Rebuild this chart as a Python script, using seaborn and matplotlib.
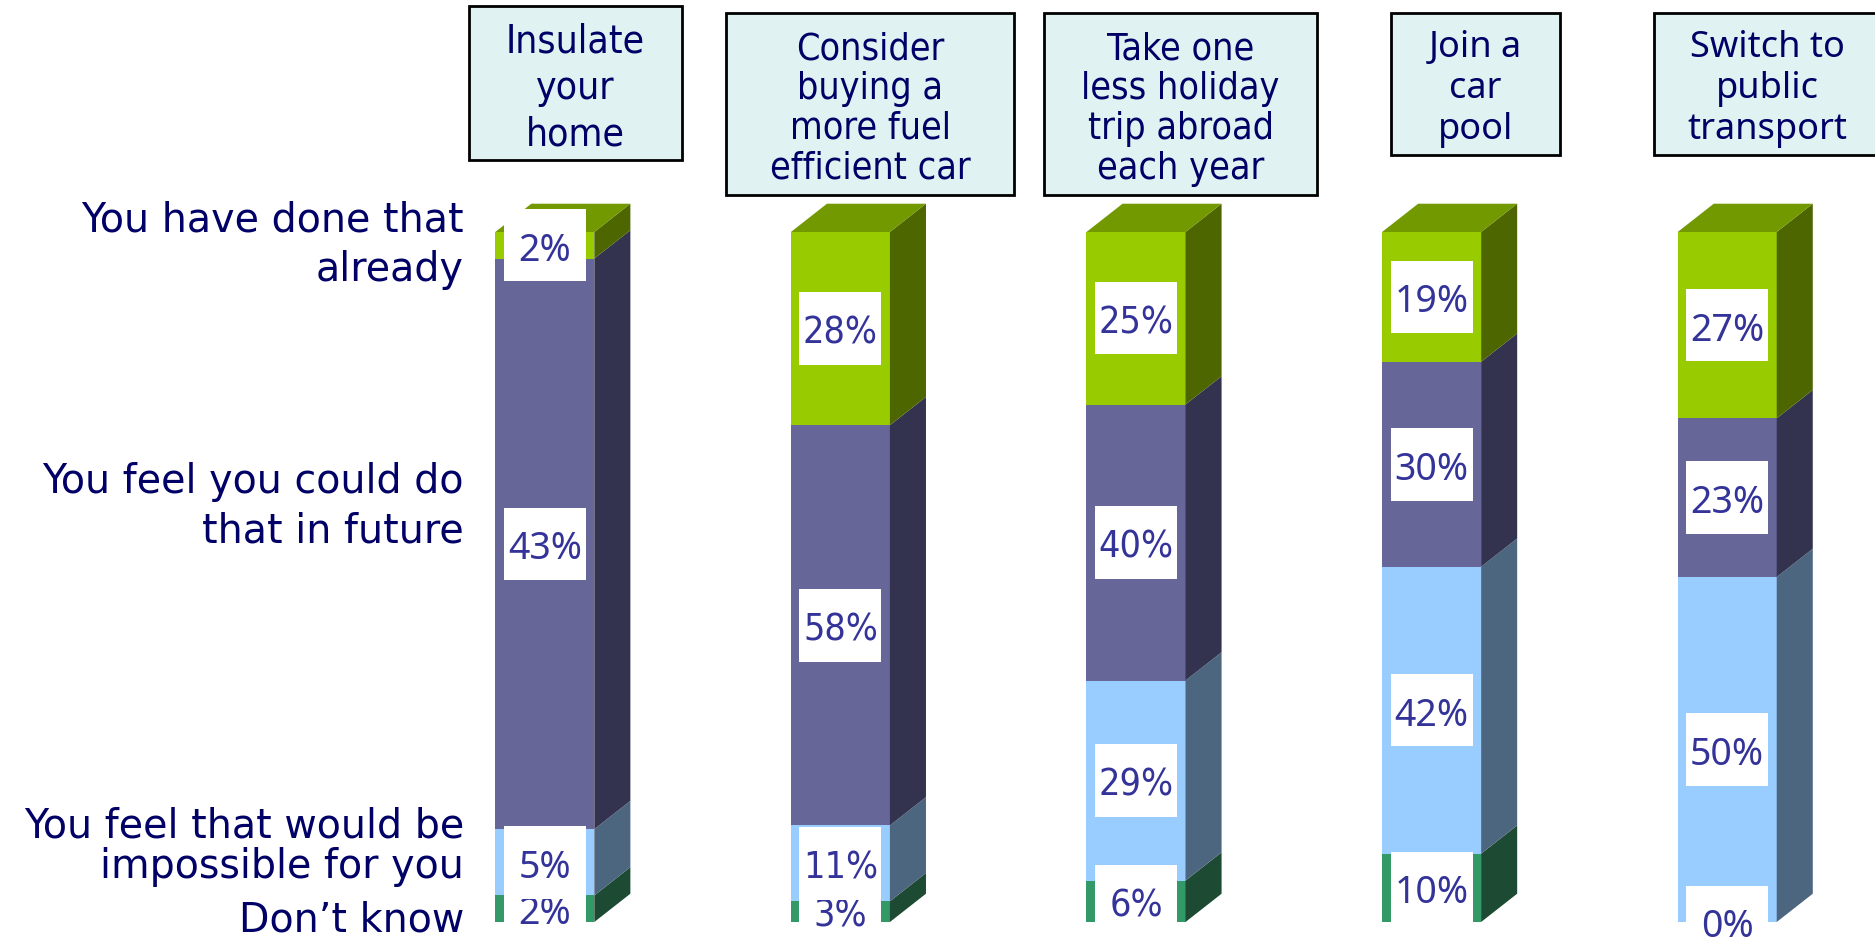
import numpy as np
import pandas as pd
import matplotlib
matplotlib.use('Agg')
import matplotlib.pyplot as plt
from matplotlib.patches import Polygon, Rectangle
import seaborn as sns

# column headers (one bar each)
actions = ['Insulate\nyour\nhome',
           'Consider\nbuying a\nmore fuel\nefficient car',
           'Take one\nless holiday\ntrip abroad\neach year',
           'Join a\ncar\npool',
           'Switch to\npublic\ntransport']

# answers, bottom of the bar first
answers = ['Don\u2019t know',
           'You feel that would be\nimpossible for you',
           'You feel you could do\nthat in future',
           'You have done that\nalready']

dont_know = [2, 3, 6, 10, 0]
impossible = [5, 11, 29, 42, 50]
could_do = [43, 58, 40, 30, 23]
done_already = [2, 28, 25, 19, 27]

df = pd.DataFrame({'action': actions, 'dont_know': dont_know, 'impossible': impossible,
                   'could_do': could_do, 'done_already': done_already})
layers = ['dont_know', 'impossible', 'could_do', 'done_already']

# bars are drawn as 100% stacks
shares = df[layers].div(df[layers].sum(axis=1), axis=0) * 100
cum = shares.cumsum(axis=1)

front = ['#339966', '#99CCFF', '#666699', '#99CC00']
side = ['#1C4A33', '#4D6680', '#33334F', '#4D6600']
top_col = '#739900'
navy = '#000066'
label_col = '#333399'

NARROW = dict(family='DejaVu Sans', fontstretch='condensed')
WIDE = dict(family=['Noto Sans', 'DejaVu Sans'])
header_fonts = [NARROW, NARROW, NARROW, WIDE, WIDE]
header_sizes = [28, 27, 27, 26, 26]
header_ls = [1.27, 1.14, 1.14, 1.2, 1.2]
label_fonts = [WIDE, NARROW, NARROW, WIDE, WIDE]

W, H = 1875, 945
fig = plt.figure(figsize=(W / 100, H / 100), dpi=100)
ax = fig.add_axes([397 / W, 22 / H, 1478 / W, 690 / H])

bar_w = 0.335
dx, dy = 0.122, 4.1
box_w, box_h = 0.277, 10.5

# front faces: draw cumulative layers from the top down
for j in reversed(range(len(layers))):
    sns.barplot(x=df['action'], y=cum[layers[j]], color=front[j], saturation=1,
                width=bar_w, linewidth=0, errorbar=None, ax=ax)

ax.set_xlim(-0.5, 4.5)
ax.set_ylim(0, 100)
ax.axis('off')

# side and top faces for the 3d look
for i in range(len(actions)):
    xl, xr = i - bar_w / 2, i + bar_w / 2
    y0 = 0
    for j, lay in enumerate(layers):
        y1 = cum[lay].iloc[i]
        ax.add_patch(Polygon([(xr, y0), (xr + dx, y0 + dy), (xr + dx, y1 + dy), (xr, y1)],
                             closed=True, fc=side[j], ec='none', clip_on=False))
        y0 = y1
    ax.add_patch(Polygon([(xl, 100), (xl + dx, 100 + dy), (xr + dx, 100 + dy), (xr, 100)],
                         closed=True, fc=top_col, ec='none', clip_on=False))

# value labels in white boxes
for i in range(len(actions)):
    y0 = 0
    for j, lay in enumerate(layers):
        mid = y0 + shares[lay].iloc[i] / 2
        ax.add_patch(Rectangle((i - box_w / 2, mid - box_h / 2), box_w, box_h, fc='white',
                               ec='none', zorder=10 + 2 * j, clip_on=False))
        ax.text(i, mid, f"{df[lay].iloc[i]}%", ha='center', va='center_baseline',
                fontsize=27, color=label_col, zorder=11 + 2 * j, clip_on=False,
                **label_fonts[i])
        y0 += shares[lay].iloc[i]

# header boxes above the bars (pixel layout)
boxes = [(469, 7, 682, 161), (726, 14, 1014, 196), (1044, 14, 1317, 196),
         (1391, 14, 1560, 156), (1654, 14, 1880, 156)]
for i, (x0, t, x1, b) in enumerate(boxes):
    fig.add_artist(Rectangle((x0 / W, 1 - b / H), (x1 - x0) / W, (b - t) / H,
                             transform=fig.transFigure, fc='#E0F2F2', ec='black', lw=2))
    fig.text((x0 + x1) / 2 / W, 1 - ((t + b) / 2 + 4) / H, actions[i], ha='center',
             va='center', multialignment='center', fontsize=header_sizes[i], color=navy,
             linespacing=header_ls[i], **header_fonts[i])

# row labels on the left
row_y = [921, 847, 507, 245]
row_ls = [1.2, 1.01, 1.31, 1.31]
for lab, y, ls in zip(answers, row_y, row_ls):
    fig.text(464 / W, 1 - y / H, lab, ha='right', va='center', multialignment='right',
             fontsize=28.5, color=navy, family='DejaVu Sans', linespacing=ls)

fig.savefig('out.png', dpi=100)
